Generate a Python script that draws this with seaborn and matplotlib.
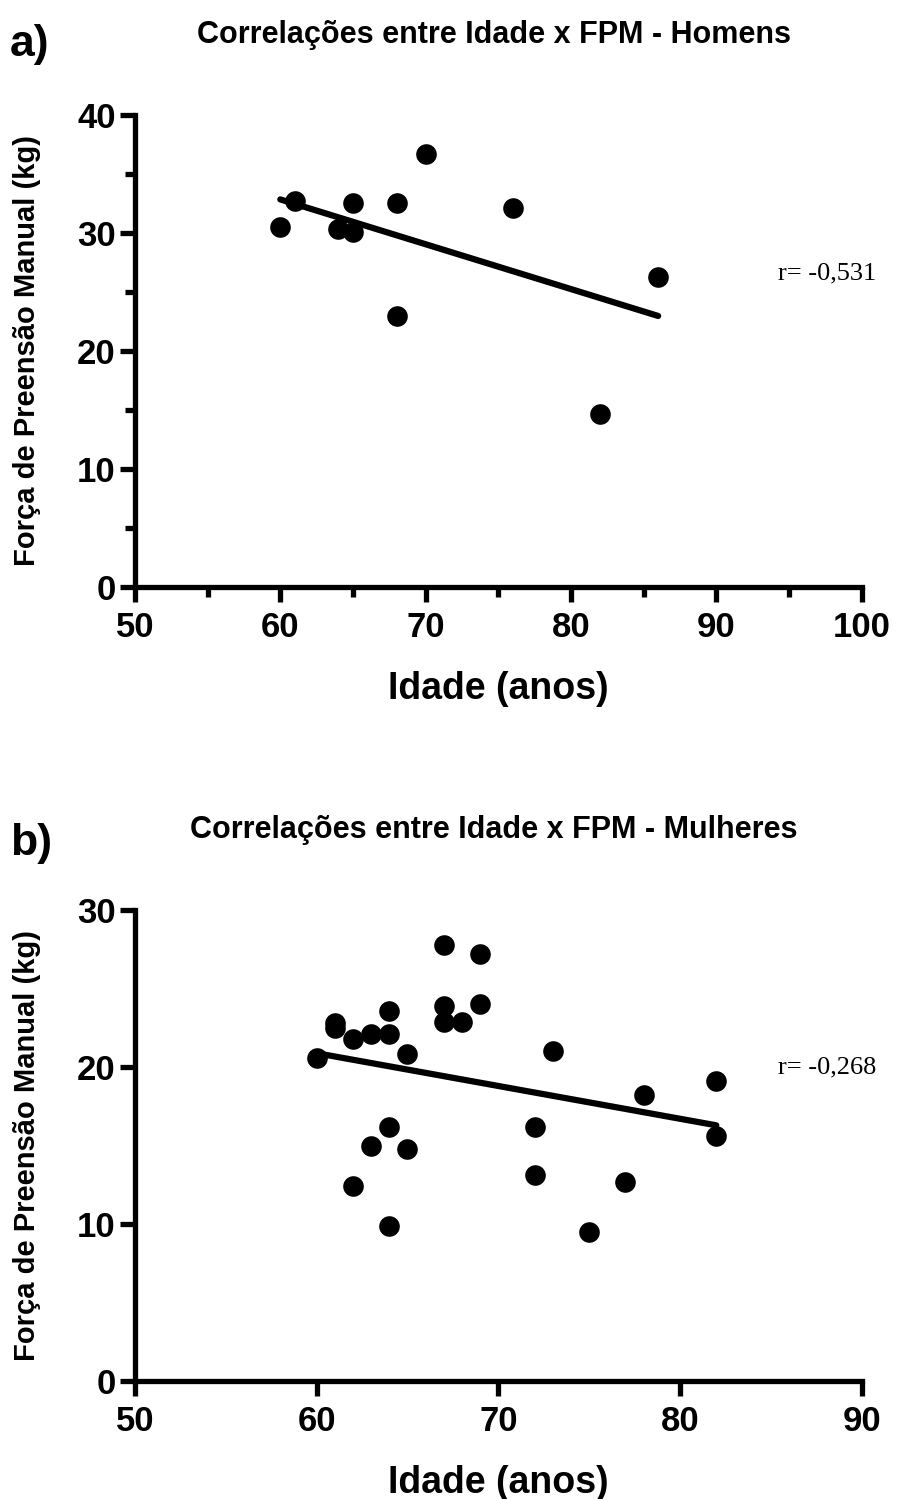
import numpy as np
import pandas as pd
import matplotlib
matplotlib.use("Agg")
import matplotlib.pyplot as plt
import seaborn as sns
from matplotlib.ticker import MultipleLocator

# Homens
idade_h = [60, 61, 64, 65, 65, 68, 68, 70, 76, 82, 86]
fpm_h = [30.5, 32.7, 30.3, 30.1, 32.5, 32.5, 23.0, 36.7, 32.1, 14.7, 26.3]

# Mulheres
idade_m = [60, 61, 61, 62, 62, 63, 63, 64, 64, 64, 64, 65, 65,
           67, 67, 67, 68, 69, 69, 72, 72, 73, 75, 77, 78, 82, 82]
fpm_m = [20.6, 22.8, 22.5, 21.8, 12.4, 22.1, 15.0, 23.6, 22.1, 16.2, 9.9, 20.8, 14.8,
         27.8, 23.9, 22.9, 22.9, 27.2, 24.0, 16.2, 13.1, 21.0, 9.5, 12.7, 18.2, 19.1, 15.6]

r_labels = ["r= -0,531", "r= -0,268"]
titles = ["Correlações entre Idade x FPM - Homens", "Correlações entre Idade x FPM - Mulheres"]
letters = ["a)", "b)"]

sns.set_style("ticks")
plt.rcParams['font.family'] = ['Liberation Sans', 'DejaVu Sans']
plt.rcParams['font.weight'] = 'bold'
for k in ["text.color", "axes.labelcolor", "xtick.color", "ytick.color", "axes.edgecolor"]:
    plt.rcParams[k] = "black"

fig = plt.figure(figsize=(9.06, 14.99), dpi=100)
ax1 = fig.add_axes([0.149, 0.6084, 0.802, 0.3149])
ax2 = fig.add_axes([0.149, 0.0787, 0.802, 0.3142])

df_h = pd.DataFrame({"idade": idade_h, "fpm": fpm_h})
df_m = pd.DataFrame({"idade": idade_m, "fpm": fpm_m})

configs = [
    (ax1, df_h, (50, 100), (0, 40), True),
    (ax2, df_m, (50, 90), (0, 30), False),
]

for i, (ax, df, xl, yl, minor_x) in enumerate(configs):
    sns.regplot(data=df, x="idade", y="fpm", ax=ax, ci=None, color="black",
                scatter_kws={"s": 220, "alpha": 1, "linewidths": 0},
                line_kws={"linewidth": 4.5, "solid_capstyle": "round"})
    ax.set_xlim(*xl)
    ax.set_ylim(*yl)
    ax.xaxis.set_major_locator(MultipleLocator(10))
    ax.yaxis.set_major_locator(MultipleLocator(10))
    if minor_x:
        ax.xaxis.set_minor_locator(MultipleLocator(5))
        ax.yaxis.set_minor_locator(MultipleLocator(5))
    sns.despine(ax=ax)
    for s in ["left", "bottom"]:
        ax.spines[s].set_linewidth(3.8)
        ax.spines[s].set_capstyle("projecting")
    ax.tick_params(which="major", width=3.8, length=11, labelsize=25, pad=3)
    ax.tick_params(axis="x", which="major", pad=6)
    ax.tick_params(which="minor", width=3.8, length=7)
    ax.set_xlabel("Idade (anos)", fontsize=27, fontweight="bold", labelpad=20)
    ax.set_ylabel("Força de Preensão Manual (kg)", fontsize=21, fontweight="bold", labelpad=26)
    ax.set_title(titles[i], fontsize=22, fontweight="bold", pad=52, x=0.494)
    ax.text(0.885, 0.665, r_labels[i], transform=ax.transAxes,
            fontsize=19, fontweight="normal", family="Liberation Serif",
            ha="left", va="center")

fig.text(0.011, 0.970, letters[0], fontsize=32, fontweight="bold", va="center")
fig.text(0.011, 0.437, letters[1], fontsize=32, fontweight="bold", va="center")

fig.savefig("out.png", dpi=100)
